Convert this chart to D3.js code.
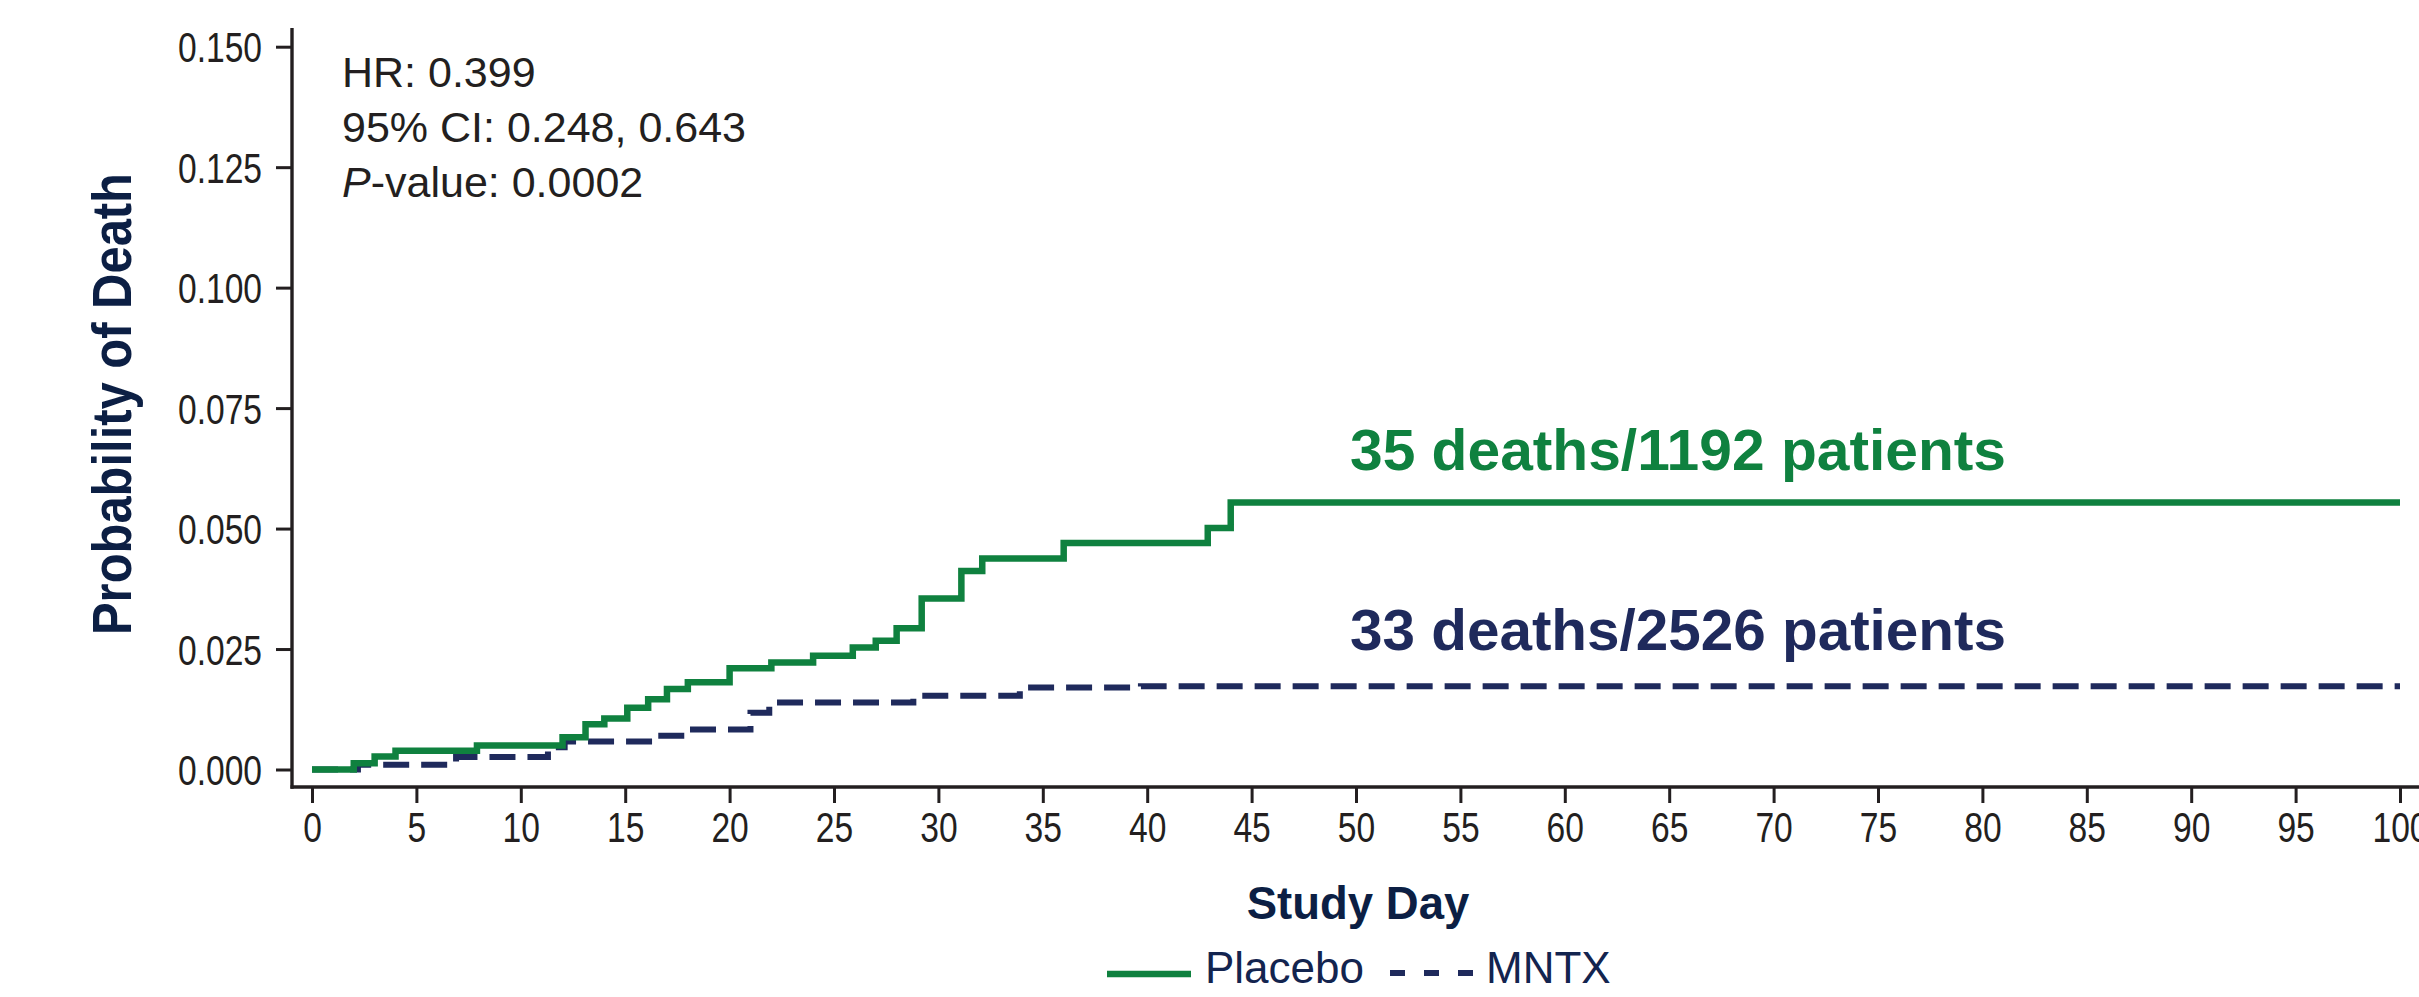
<!DOCTYPE html>
<html><head><meta charset="utf-8">
<script src="https://cdn.jsdelivr.net/npm/d3@7"></script>
<style>body{margin:0;background:#fff;} svg{display:block;}</style>
</head><body>
<svg id="chart" width="2419" height="997"></svg>
<script>
// ---------- data ----------
const xTickValues = [0,5,10,15,20,25,30,35,40,45,50,55,60,65,70,75,80,85,90,95,100];
const yTickValues = [0, 0.025, 0.05, 0.075, 0.1, 0.125, 0.15];
const yTickLabels = ["0.000","0.025","0.050","0.075","0.100","0.125","0.150"];

const placeboDays = [0, 2, 3, 4, 7.9, 12, 13.1, 14, 15.1, 16.1, 17, 18, 20, 22, 24, 25.9, 27, 28, 29.2, 31.1, 32.1, 36, 42.9, 44, 100];
const placeboProb = [0, 0.0013, 0.0027, 0.0039, 0.0050, 0.0067, 0.0094, 0.0106, 0.0128, 0.0146, 0.0167, 0.0181, 0.0210, 0.0222, 0.0236, 0.0253, 0.0267, 0.0293, 0.0355, 0.0412, 0.0438, 0.0470, 0.0501, 0.0554, 0.0554];

const mntxDays = [0, 2.2, 6.9, 11.3, 12.1, 16.5, 18.0, 21.0, 21.9, 28.8, 33.9, 39.7, 100];
const mntxProb = [0, 0.0010, 0.0026, 0.0046, 0.0058, 0.0070, 0.0083, 0.0118, 0.0139, 0.0153, 0.0170, 0.0173, 0.0173];

const seriesNames = ["Placebo", "MNTX"];
const statLines = ["HR: 0.399", "95% CI: 0.248, 0.643", "-value: 0.0002"];
const countLabels = ["35 deaths/1192 patients", "33 deaths/2526 patients"];
const xTitle = "Study Day";
const yTitle = "Probability of Death";

// ---------- styling ----------
const GREEN = "#0f813f", NAVY = "#1f2a5c", TITLE = "#0c1f44", LEG = "#13244f", INK = "#231f20";
const FONT = "'Liberation Sans', Arial, sans-serif";
const NARROW = 0.80;

const svg = d3.select("#chart");
svg.append("rect").attr("width", 2419).attr("height", 997).attr("fill", "#fff");

const x = d3.scaleLinear().domain([0, 100]).range([312, 2400]);
const y = d3.scaleLinear().domain([0, 0.15]).range([769.5, 46.7]);

const axisX = 292, axisY = 787;

// x axis
const gx = svg.append("g").attr("transform", `translate(0,${axisY})`)
  .call(d3.axisBottom(x).tickValues(xTickValues).tickSize(16).tickSizeOuter(0).tickFormat(d3.format("d")));
gx.select(".domain").remove();
gx.selectAll(".tick line").attr("stroke", INK).attr("stroke-width", 3);
gx.selectAll(".tick text")
  .attr("y", 55).attr("dy", 0)
  .attr("transform", `scale(${NARROW},1)`)
  .attr("fill", INK).style("font-family", FONT).style("font-size", "42px");
svg.append("line").attr("x1", axisX - 1.5).attr("x2", 2419).attr("y1", axisY).attr("y2", axisY)
  .attr("stroke", INK).attr("stroke-width", 3.4);

// y axis
const gy = svg.append("g").attr("transform", `translate(${axisX},0)`)
  .call(d3.axisLeft(y).tickValues(yTickValues).tickSize(16).tickSizeOuter(0).tickFormat((d, i) => yTickLabels[i]));
gy.select(".domain").remove();
gy.selectAll(".tick line").attr("stroke", INK).attr("stroke-width", 3);
gy.selectAll(".tick text")
  .attr("x", -30 / NARROW).attr("dy", "0.36em")
  .attr("transform", `scale(${NARROW},1)`)
  .attr("fill", INK).style("font-family", FONT).style("font-size", "42px");
svg.append("line").attr("x1", axisX).attr("x2", axisX).attr("y1", 28).attr("y2", axisY + 1.7)
  .attr("stroke", INK).attr("stroke-width", 3.4);

// curves
const line = d3.line().curve(d3.curveStepAfter).x(d => x(d[0])).y(d => y(d[1]));
const placebo = placeboDays.map((d, i) => [d, placeboProb[i]]);
const mntx = mntxDays.map((d, i) => [d, mntxProb[i]]);

svg.append("path").datum(mntx).attr("d", line)
  .attr("fill", "none").attr("stroke", NAVY).attr("stroke-width", 6)
  .attr("stroke-dasharray", "26,12").attr("stroke-linejoin", "miter");
svg.append("path").datum(placebo).attr("d", line)
  .attr("fill", "none").attr("stroke", GREEN).attr("stroke-width", 6.5)
  .attr("stroke-linejoin", "miter");

// stats text
const stat = svg.append("g").style("font-family", FONT).style("font-size", "43px").attr("fill", INK);
stat.append("text").attr("x", 342).attr("y", 87).text(statLines[0]);
stat.append("text").attr("x", 342).attr("y", 142).text(statLines[1]);
const pt = stat.append("text").attr("x", 342).attr("y", 197);
pt.append("tspan").style("font-style", "italic").text("P");
pt.append("tspan").text(statLines[2]);

// count labels
svg.append("text").attr("x", 1350).attr("y", 470).text(countLabels[0])
  .attr("fill", GREEN).style("font-family", FONT).style("font-weight", "bold").style("font-size", "57px")
  .attr("textLength", 656).attr("lengthAdjust", "spacingAndGlyphs");
svg.append("text").attr("x", 1350).attr("y", 650).text(countLabels[1])
  .attr("fill", NAVY).style("font-family", FONT).style("font-weight", "bold").style("font-size", "57px")
  .attr("textLength", 656).attr("lengthAdjust", "spacingAndGlyphs");

// axis titles
svg.append("text").attr("x", 1358).attr("y", 919).attr("text-anchor", "middle").text(xTitle)
  .attr("fill", TITLE).style("font-family", FONT).style("font-weight", "bold").style("font-size", "45.5px");
svg.append("text").attr("transform", "translate(131,404) rotate(-90)").attr("text-anchor", "middle").text(yTitle)
  .attr("fill", TITLE).style("font-family", FONT).style("font-weight", "bold").style("font-size", "56px")
  .attr("textLength", 462).attr("lengthAdjust", "spacingAndGlyphs");

// legend
const leg = svg.append("g");
leg.append("line").attr("x1", 1107).attr("x2", 1191).attr("y1", 974).attr("y2", 974)
  .attr("stroke", GREEN).attr("stroke-width", 6.5);
leg.append("text").attr("x", 1205).attr("y", 983).text(seriesNames[0])
  .attr("fill", LEG).style("font-family", FONT).style("font-size", "44px");
leg.append("line").attr("x1", 1390).attr("x2", 1474).attr("y1", 973).attr("y2", 973)
  .attr("stroke", NAVY).attr("stroke-width", 6).attr("stroke-dasharray", "15,19");
leg.append("text").attr("x", 1486).attr("y", 983).text(seriesNames[1])
  .attr("fill", LEG).style("font-family", FONT).style("font-size", "44px");
</script>
</body></html>
